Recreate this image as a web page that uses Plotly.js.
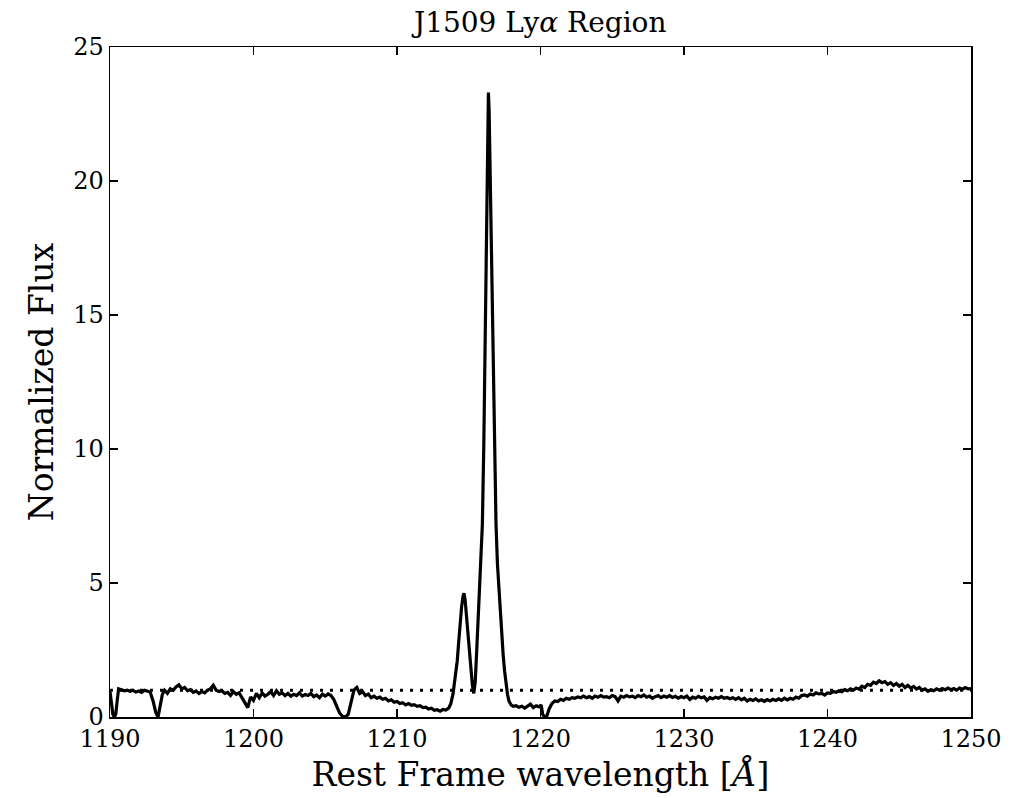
<!DOCTYPE html>
<html>
<head>
<meta charset="utf-8">
<script src="https://cdn.plot.ly/plotly-3.0.1.min.js"></script>
<style>html,body{margin:0;padding:0;background:#fff;}#chart{width:1031px;height:798px;}</style>
</head>
<body>
<div id="chart"></div>
<script>
// Rest-frame wavelength (Å)
const wavelength = [
1190.0,1190.1,1190.2,1190.3,1190.4,1190.5,1190.6,1190.8,1191.0,1191.2,1191.4,1191.6,1191.8,1192.0,1192.2,1192.4,1192.6,1192.8,1193.0,1193.2,1193.35,1193.5,1193.65,1193.8,
1194.0,1194.2,1194.4,1194.6,1194.8,1195.0,1195.2,1195.4,1195.6,1195.8,1196.0,1196.2,1196.4,1196.6,1196.8,1197.0,1197.2,1197.4,1197.6,1197.8,
1198.0,1198.2,1198.4,1198.6,1198.8,1199.0,1199.2,1199.4,1199.6,1199.8,1200.0,1200.2,1200.4,1200.6,1200.8,1201.0,1201.2,1201.4,1201.6,1201.8,
1202.0,1202.2,1202.4,1202.6,1202.8,1203.0,1203.2,1203.4,1203.6,1203.8,1204.0,1204.2,1204.4,1204.6,1204.8,1205.0,1205.2,1205.4,1205.6,1205.8,
1206.0,1206.2,1206.4,1206.6,1206.8,1207.0,1207.2,1207.4,1207.6,1207.8,1208.0,1208.2,1208.4,1208.6,1208.8,1209.0,1209.2,1209.4,1209.6,1209.8,
1210.0,1210.2,1210.4,1210.6,1210.8,1211.0,1211.2,1211.4,1211.6,1211.8,1212.0,1212.2,1212.4,1212.6,1212.8,1213.0,1213.2,1213.4,1213.6,1213.75,1213.9,
1214.0,1214.1,1214.2,1214.3,1214.4,1214.5,1214.6,1214.67,1214.75,1214.85,1214.95,1215.05,1215.15,1215.25,1215.35,1215.45,1215.55,1215.65,1215.75,1215.85,1215.95,
1216.05,1216.15,1216.25,1216.32,1216.37,1216.42,1216.5,1216.6,1216.7,1216.8,1216.9,1217.0,1217.1,1217.2,1217.3,1217.4,1217.5,1217.6,1217.7,1217.8,1217.95,
1218.1,1218.3,1218.5,1218.7,1218.9,1219.1,1219.3,1219.5,1219.7,1219.9,1220.05,1220.15,1220.3,1220.45,1220.6,1220.8,
1221.0,1221.2,1221.4,1221.6,1221.8,1222.0,1222.2,1222.4,1222.6,1222.8,1223.0,1223.2,1223.4,1223.6,1223.8,1224.0,1224.2,1224.4,1224.6,1224.8,
1225.0,1225.2,1225.4,1225.6,1225.8,1226.0,1226.2,1226.4,1226.6,1226.8,1227.0,1227.2,1227.4,1227.6,1227.8,1228.0,1228.2,1228.4,1228.6,1228.8,
1229.0,1229.2,1229.4,1229.6,1229.8,1230.0,1230.2,1230.4,1230.6,1230.8,1231.0,1231.2,1231.4,1231.6,1231.8,1232.0,1232.2,1232.4,1232.6,1232.8,
1233.0,1233.2,1233.4,1233.6,1233.8,1234.0,1234.2,1234.4,1234.6,1234.8,1235.0,1235.2,1235.4,1235.6,1235.8,1236.0,1236.2,1236.4,1236.6,1236.8,
1237.0,1237.2,1237.4,1237.6,1237.8,1238.0,1238.2,1238.4,1238.6,1238.8,1239.0,1239.2,1239.4,1239.6,1239.8,1240.0,1240.2,1240.4,1240.6,1240.8,
1241.0,1241.2,1241.4,1241.6,1241.8,1242.0,1242.2,1242.4,1242.6,1242.8,1243.0,1243.2,1243.4,1243.6,1243.8,1244.0,1244.2,1244.4,1244.6,1244.8,
1245.0,1245.2,1245.4,1245.6,1245.8,1246.0,1246.2,1246.4,1246.6,1246.8,1247.0,1247.2,1247.4,1247.6,1247.8,1248.0,1248.2,1248.4,1248.6,1248.8,
1249.0,1249.2,1249.4,1249.6,1249.8,1250.0
];
// Normalized flux
const flux = [
0.95,0.5,0.1,0.0,0.1,0.6,1.05,1.02,0.98,1.0,0.96,1.0,0.93,0.97,0.92,1.0,0.95,0.93,0.6,0.15,0.0,0.4,0.85,1.0,
0.88,1.05,1.0,1.12,1.2,1.05,1.1,0.98,1.02,0.92,0.97,0.88,0.95,0.9,1.0,1.05,1.18,1.0,0.95,0.98,
0.88,0.92,0.8,0.95,0.85,0.9,0.7,0.5,0.35,0.75,0.62,0.88,0.72,0.9,0.78,0.85,0.95,0.8,0.98,0.85,
0.9,0.8,0.88,0.78,0.85,0.8,0.9,0.78,0.84,0.8,0.88,0.76,0.82,0.72,0.85,0.78,0.86,0.8,0.65,0.4,
0.15,0.03,0.0,0.1,0.6,1.0,1.1,0.88,0.95,0.8,0.86,0.72,0.78,0.7,0.74,0.66,0.7,0.6,0.64,0.55,
0.58,0.5,0.53,0.45,0.5,0.44,0.46,0.4,0.42,0.35,0.37,0.3,0.33,0.25,0.27,0.22,0.28,0.26,0.33,0.5,0.85,
1.2,1.6,2.1,2.8,3.5,4.1,4.5,4.62,4.35,3.7,3.0,2.3,1.7,1.2,0.88,1.3,2.4,3.5,4.6,5.6,7.2,
10.2,14.5,19.5,22.6,23.3,22.6,19.8,16.0,12.5,9.5,7.2,5.7,4.8,3.9,3.0,2.3,1.7,1.2,0.85,0.6,0.45,
0.4,0.42,0.36,0.4,0.33,0.4,0.48,0.35,0.42,0.38,0.45,0.1,0.0,0.05,0.3,0.5,
0.6,0.58,0.66,0.62,0.7,0.66,0.72,0.7,0.75,0.72,0.78,0.72,0.76,0.7,0.78,0.74,0.8,0.74,0.76,0.72,
0.8,0.76,0.6,0.78,0.74,0.8,0.75,0.78,0.72,0.8,0.76,0.82,0.74,0.78,0.7,0.76,0.8,0.72,0.78,0.74,
0.8,0.73,0.77,0.7,0.76,0.72,0.78,0.65,0.74,0.7,0.77,0.72,0.75,0.62,0.72,0.68,0.74,0.7,0.76,0.7,
0.73,0.68,0.72,0.66,0.72,0.64,0.7,0.6,0.66,0.62,0.68,0.6,0.64,0.58,0.65,0.6,0.66,0.62,0.68,0.62,
0.7,0.64,0.7,0.66,0.74,0.7,0.8,0.82,0.78,0.86,0.82,0.9,0.86,0.88,0.82,0.9,0.88,0.95,0.92,0.98,
0.94,1.02,0.98,1.05,1.0,1.08,1.04,1.15,1.1,1.22,1.18,1.3,1.25,1.35,1.28,1.32,1.22,1.28,1.18,1.25,
1.15,1.22,1.1,1.18,1.08,1.14,1.04,1.1,1.0,1.05,0.96,1.02,0.98,1.05,1.0,1.06,1.02,1.08,1.02,1.06,
1.0,1.08,1.04,1.1,1.05,1.06
];
// Continuum reference level
const contX = [1190, 1250];
const contY = [1, 1];

const xTicks = [1190, 1200, 1210, 1220, 1230, 1240, 1250];
const yTicks = [0, 5, 10, 15, 20, 25];

const FONT = "DejaVu Serif, serif";

const traces = [
  {x: wavelength, y: flux, type: 'scatter', mode: 'lines',
   line: {color: '#000', width: 3.2}, hoverinfo: 'skip'},
  {x: contX, y: contY, type: 'scatter', mode: 'lines',
   line: {color: '#000', width: 3, dash: '3px,7px'}, hoverinfo: 'skip'}
];

const axisCommon = {
  showline: true, linecolor: '#000', linewidth: 1.5, mirror: 'ticks',
  ticks: 'inside', ticklen: 8, tickwidth: 1.2, tickcolor: '#000',
  showgrid: false, zeroline: false,
  tickfont: {family: FONT, size: 24, color: '#000'}
};

const layout = {
  width: 1031, height: 798,
  margin: {l: 110, r: 60, t: 47, b: 81},
  paper_bgcolor: '#fff', plot_bgcolor: '#fff',
  showlegend: false,
  title: {text: 'J1509 Ly<i>α</i> Region', x: 0.524, xanchor: 'center',
          y: 0.972, yanchor: 'middle', yref: 'container',
          font: {family: FONT, size: 28, color: '#000'}},
  xaxis: Object.assign({}, axisCommon, {
    range: [1190, 1250], tickvals: xTicks, ticktext: xTicks.map(String),
    title: {text: 'Rest Frame wavelength [<i>Å</i>]', standoff: 10,
            font: {family: FONT, size: 33, color: '#000'}}
  }),
  yaxis: Object.assign({}, axisCommon, {
    range: [0, 25], tickvals: yTicks, ticktext: yTicks.map(String),
    title: {text: 'Normalized Flux', standoff: 9,
            font: {family: FONT, size: 33, color: '#000'}}
  })
};

Plotly.newPlot('chart', traces, layout, {displayModeBar: false, staticPlot: true});
</script>
</body>
</html>
